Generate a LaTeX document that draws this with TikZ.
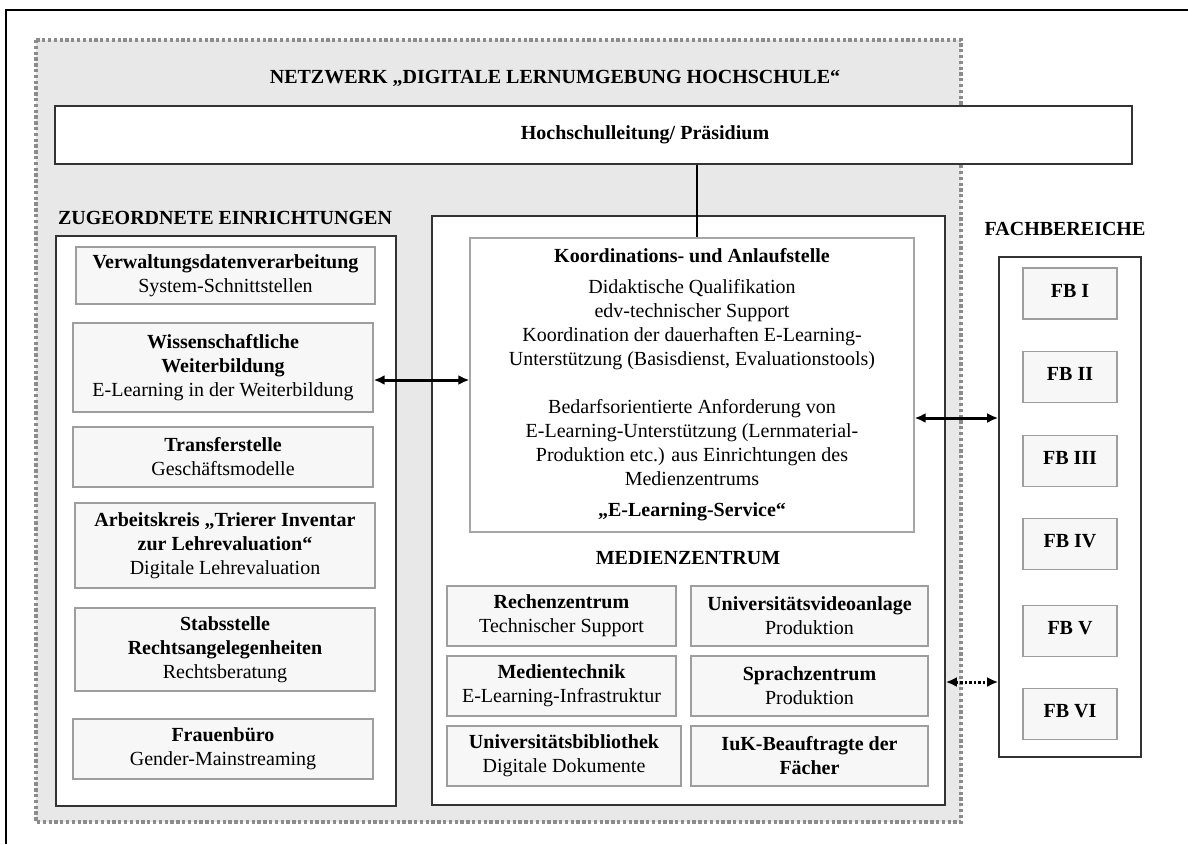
\documentclass[tikz,border=0pt]{standalone}
\usepackage{fontspec}
\setmainfont{Liberation Serif}
\usetikzlibrary{arrows.meta}
\newcommand\fsz{\fontsize{20}{24}\selectfont}
\begin{document}
\begin{tikzpicture}[x=1pt,y=-1pt,
  region/.style={fill=black!9, draw=black!45, line width=3.2pt, dash pattern=on 3.3pt off 2.5pt},
  container/.style={draw=black!80, line width=1.6pt, fill=white, inner sep=0pt},
  kbox/.style={draw=black!35, line width=1.3pt, fill=white, inner sep=0pt, align=center, font=\fsz},
  item/.style={draw=black!38, line width=1.4pt, fill=black!3, inner sep=0pt, align=center, font=\fsz},
  heading/.style={font=\fsz\bfseries, inner sep=0pt},
  dbl/.style={{Latex[length=11pt,width=10pt]}-{Latex[length=11pt,width=10pt]}, line width=3pt},
  dbldot/.style={dbl, dash pattern=on 2.5pt off 2pt}
]
\useasboundingbox (0,0) rectangle (1188,844);
\fill[white] (0,0) rectangle (1188,844);
% outer frame
\draw[line width=2pt] (1188,10) -- (6,10) -- (6,844);
% network region
\draw[region] (36,40) rectangle (961,822);
\node[heading] (title) at (555,78) {NETZWERK „DIGITALE LERNUMGEBUNG HOCHSCHULE“};
% Hochschulleitung
\node[container, minimum width=1077pt, minimum height=58pt] (hl) at (593.5,135) {};
\node[heading] (hltext) at (645,135) {Hochschulleitung/ Präsidium};

% left column
\node[heading] (zuhead) at (225,218) {ZUGEORDNETE EINRICHTUNGEN};
\node[container, minimum width=340pt, minimum height=570pt] (leftc) at (226,521) {};
\node[item, minimum width=299pt, minimum height=57pt] (verw) at (225.5,275.5) {\textbf{Verwaltungsdatenverarbeitung}\\System-Schnittstellen};
\node[item, minimum width=300pt, minimum height=89pt] (wiss) at (223,367.5) {\textbf{Wissenschaftliche}\\\textbf{Weiterbildung}\\E-Learning in der Weiterbildung};
\node[item, minimum width=300pt, minimum height=60pt] (trans) at (223,457) {\textbf{Transferstelle}\\Geschäftsmodelle};
\node[item, minimum width=300pt, minimum height=85pt] (arbeit) at (225,545.5) {\textbf{Arbeitskreis „Trierer Inventar}\\\textbf{zur Lehrevaluation“}\\Digitale Lehrevaluation};
\node[item, minimum width=300pt, minimum height=83pt] (stabs) at (225,649.5) {\textbf{Stabsstelle}\\\textbf{Rechtsangelegenheiten}\\Rechtsberatung};
\node[item, minimum width=300pt, minimum height=60pt] (frauen) at (223,749) {\textbf{Frauenbüro}\\Gender-Mainstreaming};

% middle column
\node[container, minimum width=513pt, minimum height=589pt] (midc) at (688.5,510.5) {};
\node[kbox, minimum width=444pt, minimum height=294pt] (koord) at (692,385) {\textbf{Koordinations- und Anlaufstelle}\\[7pt]
Didaktische Qualifikation\\
edv-technischer Support\\
Koordination der dauerhaften E-Learning-\\
Unterstützung (Basisdienst, Evaluationstools)\\[24pt]
Bedarfsorientierte Anforderung von\\
E-Learning-Unterstützung (Lernmaterial-\\
Produktion etc.) aus Einrichtungen des\\
Medienzentrums\\[7pt]
\textbf{„E-Learning-Service“}};
\node[heading] (mzhead) at (688,558) {MEDIENZENTRUM};
\node[item, minimum width=229pt, minimum height=60pt] (rz) at (561.5,616) {\textbf{Rechenzentrum}\\Technischer Support};
\node[item, minimum width=237pt, minimum height=60pt] (uv) at (809.5,616) {\textbf{Universitätsvideoanlage}\\Produktion};
\node[item, minimum width=229pt, minimum height=60pt] (mt) at (561.5,686) {\textbf{Medientechnik}\\E-Learning-Infrastruktur};
\node[item, minimum width=237pt, minimum height=60pt] (sz) at (809.5,686) {\textbf{Sprachzentrum}\\Produktion};
\node[item, minimum width=234pt, minimum height=60pt] (ub) at (564,756) {\textbf{Universitätsbibliothek}\\Digitale Dokumente};
\node[item, minimum width=237pt, minimum height=60pt] (iuk) at (809.5,756) {\textbf{IuK-Beauftragte der}\\\textbf{Fächer}};

% right column
\node[heading] (fbhead) at (1065,229) {FACHBEREICHE};
\node[container, minimum width=142pt, minimum height=500pt] (fbc) at (1070,507) {};
\node[item, minimum width=94pt, minimum height=51pt] (fb1) at (1070,293.5) {\raisebox{6pt}{\textbf{FB I}}};
\node[item, minimum width=94pt, minimum height=51pt] (fb2) at (1070,377) {\raisebox{6pt}{\textbf{FB II}}};
\node[item, minimum width=94pt, minimum height=51pt] (fb3) at (1070,461) {\raisebox{6pt}{\textbf{FB III}}};
\node[item, minimum width=94pt, minimum height=51pt] (fb4) at (1070,544) {\raisebox{6pt}{\textbf{FB IV}}};
\node[item, minimum width=94pt, minimum height=51pt] (fb5) at (1070,631) {\raisebox{6pt}{\textbf{FB V}}};
\node[item, minimum width=94pt, minimum height=51pt] (fb6) at (1070,714) {\raisebox{6pt}{\textbf{FB VI}}};

% connectors
\coordinate (vl) at (697,0);
\coordinate (ya) at (0,380);
\coordinate (yb) at (0,418);
\coordinate (yc) at (0,682);
\draw[line width=2pt] (hl.south -| vl) -- (koord.north -| vl);
\draw[dbl] (wiss.east |- ya) -- (koord.west |- ya);
\draw[dbl] (koord.east |- yb) -- (fbc.west |- yb);
\draw[dbldot] (midc.east |- yc) -- (fbc.west |- yc);
\end{tikzpicture}
\end{document}
